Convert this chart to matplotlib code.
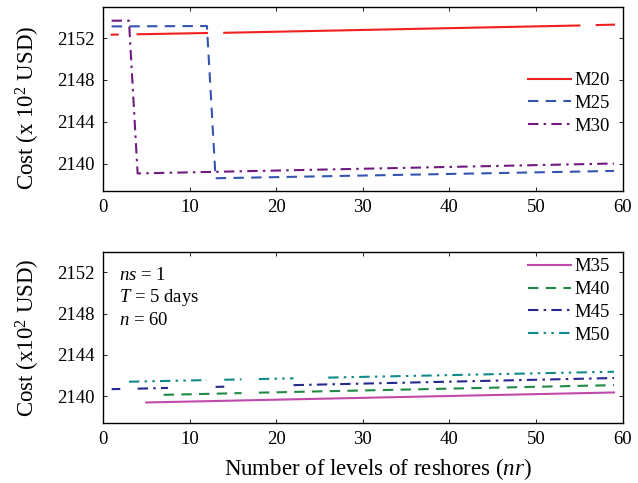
import numpy as np
import matplotlib
matplotlib.use("Agg")
from matplotlib import pyplot as plt

plt.rcParams['font.family'] = ['Liberation Serif', 'DejaVu Serif']
plt.rcParams['mathtext.fontset'] = 'custom'
plt.rcParams['mathtext.rm'] = 'Liberation Serif'
plt.rcParams['mathtext.it'] = 'Liberation Serif:italic'

nan = np.nan

# top panel (nan = break in the curve)
m20_nr = [1, 1.7, nan, 4, 12, nan, 14, 55, nan, 57, 59]
m20_cost = [2152.32, 2152.33, nan, 2152.36, 2152.48, nan, 2152.50, 2153.20, nan, 2153.24, 2153.28]
m25_nr = [1, 12, 13, 59]
m25_cost = [2153.11, 2153.15, 2138.59, 2139.29]
m30_nr = [1, 3, 4, 59]
m30_cost = [2153.66, 2153.66, 2139.05, 2140.0]

# bottom panel
m35_nr = [5, 59]
m35_cost = [2139.39, 2140.36]
m40_nr = [7, 16, nan, 18, 59]
m40_cost = [2140.13, 2140.30, nan, 2140.34, 2141.07]
m45_nr = [1, 2, nan, 4, 7.5, nan, 13, 14, nan, 22, 59]
m45_cost = [2140.68, 2140.70, nan, 2140.73, 2140.80, nan, 2140.90, 2140.92, nan, 2141.07, 2141.76]
m50_nr = [3, 12, nan, 14, 16, nan, 18, 22, nan, 26, 59]
m50_cost = [2141.40, 2141.56, nan, 2141.59, 2141.63, nan, 2141.66, 2141.73, nan, 2141.80, 2142.37]

xticks = [0, 10, 20, 30, 40, 50, 60]
yticks = [2140, 2144, 2148, 2152]

fig = plt.figure(figsize=(6.38, 4.83), dpi=100)
ax1 = fig.add_axes([0.1614, 0.6052, 0.8146, 0.381])
ax2 = fig.add_axes([0.1614, 0.1242, 0.8146, 0.3547])

lw = 1.5
ax1.plot(m20_nr, m20_cost, color='#f02020', lw=lw, label='M20')
ax1.plot(m25_nr, m25_cost, color='#3355b0', lw=lw, dashes=(5, 3.5), label='M25')
ax1.plot(m30_nr, m30_cost, color='#701a80', lw=lw, dashes=(5, 2.5, 1.2, 2.5), label='M30')

ax2.plot(m35_nr, m35_cost, color='#c04aa8', lw=lw, label='M35')
ax2.plot(m40_nr, m40_cost, color='#1f8a45', lw=lw, dashes=(5, 3.5), label='M40')
ax2.plot(m45_nr, m45_cost, color='#25288f', lw=lw, dashes=(5, 2.5, 1.2, 2.5), label='M45')
ax2.plot(m50_nr, m50_cost, color='#138a8a', lw=lw, dashes=(5, 2.5, 1.2, 2.5, 1.2, 2.5), label='M50')

for ax in (ax1, ax2):
    ax.set_xlim(0, 60)
    ax.set_xticks(xticks)
    ax.set_yticks(yticks)
    ax.tick_params(direction='in', top=True, right=True, labelsize=13.5,
                   length=3, width=0.6, pad=6)
    for s in ax.spines.values():
        s.set_linewidth(1.0)

ax1.set_ylim(2137.4, 2155)
ax2.set_ylim(2137.4, 2154)

ax1.set_ylabel('Cost (x 10$^2$ USD)', fontsize=16.5)
ax2.set_ylabel('Cost (x10$^2$ USD)', fontsize=16.5)
ax1.yaxis.set_label_coords(-0.117, 0.452)
ax2.yaxis.set_label_coords(-0.117, 0.5)
ax2.set_xlabel('Number of levels of reshores ($nr$)', fontsize=16.5)
ax2.xaxis.set_label_coords(0.529, -0.195)

ax1.legend(loc='center right', bbox_to_anchor=(0.99, 0.474), frameon=False,
           fontsize=13.5, handlelength=2.3, handletextpad=0.2, labelspacing=0.3,
           borderaxespad=0)
ax2.legend(loc='center right', bbox_to_anchor=(0.99, 0.712), frameon=False,
           fontsize=13.5, handlelength=2.3, handletextpad=0.2, labelspacing=0.3,
           borderaxespad=0)

ax2.text(0.031, 0.862, '$ns$ = 1', transform=ax2.transAxes, fontsize=13.5, va='center')
ax2.text(0.031, 0.730, '$T$ = 5 days', transform=ax2.transAxes, fontsize=13.5, va='center')
ax2.text(0.031, 0.600, '$n$ = 60', transform=ax2.transAxes, fontsize=13.5, va='center')

fig.savefig('out.png', dpi=100)
